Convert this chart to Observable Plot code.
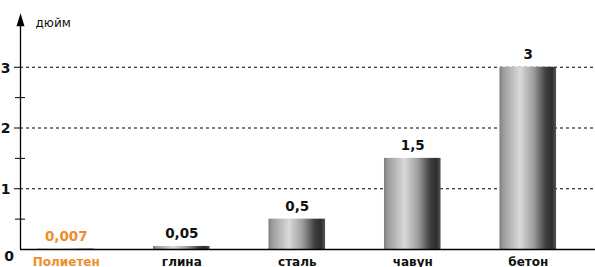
<!DOCTYPE html>
<html>
<head>
<meta charset="utf-8">
<script src="https://cdn.jsdelivr.net/npm/d3@7"></script>
<script src="https://cdn.jsdelivr.net/npm/@observablehq/plot@0.6"></script>
<style>
  html, body { margin: 0; padding: 0; background: #fff; }
  #chart svg { display: block; }
</style>
</head>
<body>
<div id="chart"></div>
<script>
const categories = ["Полиетен", "глина", "сталь", "чавун", "бетон"];
const values = [0.007, 0.05, 0.5, 1.5, 3];
const valueLabels = ["0,007", "0,05", "0,5", "1,5", "3"];
const yMajorTicks = [1, 2, 3];
const yMinorTicks = [0.5, 1.5, 2.5];
const yTickLabels = ["0", "1", "2", "3"];
const yUnit = "дюйм";
const yAxisTop = 3.89;

const orange = "#ee8e2a";
const dark = "#111";
const font = "DejaVu Sans, sans-serif";

const data = categories.map((c, i) => ({i, category: c, value: values[i], label: valueLabels[i]}));
const yLabelData = yTickLabels.map((t, i) => ({t, v: i}));
const halfBar = 0.245;
const xMin = -0.3965;

const triangle = {
  draw(context) {
    context.moveTo(0, 0);
    context.lineTo(-4, 13);
    context.lineTo(4, 13);
    context.closePath();
  }
};

const chart = Plot.plot({
  width: 595,
  height: 267,
  marginLeft: 20,
  marginRight: 0,
  marginTop: 6,
  marginBottom: 18,
  style: {background: "#fff", fontFamily: font},
  x: {type: "linear", domain: [xMin, 4.582], axis: null},
  y: {domain: [0, 4], axis: null},
  color: {type: "identity"},
  marks: [
    Plot.ruleY(yMajorTicks, {stroke: "#000", strokeWidth: 1, strokeDasharray: "3,3"}),
    Plot.axisY({ticks: yMajorTicks, tickSize: 6, tickFormat: () => "", stroke: "#000"}),
    Plot.axisY({ticks: yMinorTicks, tickSize: 10, dx: 5, tickFormat: () => "", stroke: "#000"}),
    Plot.rectY(data, {x1: d => d.i - halfBar, x2: d => d.i + halfBar, y1: 0, y2: "value", fill: "url(#barGrad)"}),
    Plot.ruleY([0], {stroke: "#000", strokeWidth: 1.3}),
    Plot.ruleX([xMin], {y1: 0, y2: yAxisTop - 0.1, stroke: "#000", strokeWidth: 1.3}),
    Plot.dot([xMin], {x: d => d, y: () => yAxisTop, symbol: triangle, fill: "#000", stroke: null}),
    Plot.text([yUnit], {x: () => xMin, y: () => yAxisTop, dx: 15, dy: 10, textAnchor: "start", fontSize: 12, fill: dark}),
    Plot.text(yLabelData.filter(d => d.v > 0), {x: () => xMin, y: "v", text: "t", dx: -15, dy: 1, textAnchor: "middle", fontSize: 14, fontWeight: "bold", fill: dark}),
    Plot.text(yLabelData.filter(d => d.v === 0), {x: () => xMin, y: "v", text: "t", dx: -11.5, dy: 7, textAnchor: "middle", fontSize: 14, fontWeight: "bold", fill: dark}),
    Plot.text(data, {x: "i", y: "value", text: "label", dy: -8, lineAnchor: "bottom", fontSize: 13.5, fontWeight: "bold", fill: d => d.i === 0 ? orange : dark}),
    Plot.text(data, {x: "i", y: () => 0, text: "category", dy: 16, lineAnchor: "bottom", fontSize: 12, fontWeight: "bold", fill: d => d.i === 0 ? orange : dark})
  ]
});

const svg = d3.select(chart);
const defs = svg.insert("defs", ":first-child");
const grad = defs.append("linearGradient").attr("id", "barGrad").attr("x1", "0").attr("x2", "1").attr("y1", "0").attr("y2", "0");
[[0, "#7c7c7c"], [0.06, "#9a9a9a"], [0.36, "#d9d9d9"], [0.6, "#9e9e9e"], [0.82, "#3e3e3e"], [0.93, "#2e2e2e"], [1, "#585858"]]
  .forEach(([o, c]) => grad.append("stop").attr("offset", o).attr("stop-color", c));

document.getElementById("chart").appendChild(chart);
</script>
</body>
</html>
